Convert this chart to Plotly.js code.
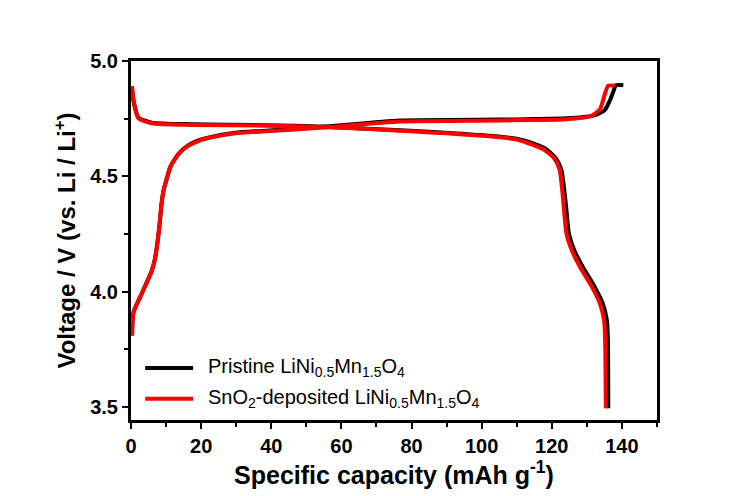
<!DOCTYPE html>
<html>
<head>
<meta charset="utf-8">
<script src="https://cdn.plot.ly/plotly-3.0.1.min.js"></script>
<style>
  html, body { margin: 0; padding: 0; background: #fff; }
  #plot { width: 752px; height: 496px; }
</style>
</head>
<body>
<div id="plot"></div>
<script>
// Charge / discharge curves (capacity in mAh/g, voltage in V)
const pristineChargeX = [0.3, 0.7, 3.0, 5.9, 6.8, 7.6, 8.2, 8.7, 9.3, 10.2, 11.2, 12.5, 14, 16.3, 19, 22, 29.7, 37.3, 55.8, 76.7, 105.2, 112.8, 124.2, 131.5, 135.0, 136.6, 137.6, 138.3, 140.4];
const pristineChargeY = [3.81, 3.91, 3.99, 4.09, 4.14, 4.22, 4.30, 4.38, 4.44, 4.49, 4.54, 4.575, 4.605, 4.634, 4.655, 4.668, 4.689, 4.697, 4.716, 4.742, 4.746, 4.748, 4.752, 4.762, 4.785, 4.83, 4.87, 4.895, 4.895];
const pristineDischargeX = [0.3, 0.5, 1.1, 2.1, 5.9, 17.3, 37.3, 55.8, 76.7, 100.5, 110, 115.2, 118, 121.1, 122.7, 123.5, 124.2, 124.9, 126.4, 128.8, 132.2, 134.5, 135.7, 136.0, 136.1];
const pristineDischargeY = [4.89, 4.85, 4.80, 4.755, 4.733, 4.726, 4.722, 4.715, 4.70, 4.678, 4.663, 4.64, 4.622, 4.58, 4.53, 4.45, 4.35, 4.25, 4.18, 4.108, 4.022, 3.95, 3.877, 3.79, 3.495];

const snChargeX = [0.3, 0.7, 3.0, 5.9, 6.8, 7.6, 8.2, 8.7, 9.3, 10.2, 11.2, 12.5, 14, 16.3, 19, 22, 29.7, 37.3, 55.8, 76.7, 105.2, 112.8, 124.2, 130.9, 133.7, 135.2, 136.1, 138];
const snChargeY = [3.81, 3.91, 3.99, 4.09, 4.14, 4.22, 4.30, 4.38, 4.44, 4.49, 4.54, 4.575, 4.605, 4.632, 4.652, 4.666, 4.687, 4.694, 4.713, 4.738, 4.742, 4.744, 4.748, 4.76, 4.79, 4.86, 4.893, 4.893];
const snDischargeX = [0.3, 0.5, 1.1, 2.1, 5.9, 17.3, 37.3, 55.8, 76.7, 100.5, 110, 114.7, 117.5, 120.6, 122.2, 122.9, 123.5, 124.2, 125.7, 128, 131.4, 133.7, 134.9, 135.2, 135.4];
const snDischargeY = [4.89, 4.85, 4.80, 4.752, 4.73, 4.723, 4.72, 4.713, 4.698, 4.676, 4.66, 4.636, 4.618, 4.58, 4.53, 4.45, 4.35, 4.25, 4.18, 4.108, 4.022, 3.95, 3.877, 3.79, 3.495];

const pristineName = "Pristine LiNi<sub>0.5</sub>Mn<sub>1.5</sub>O<sub>4</sub>";
const snName = "SnO<sub>2</sub>-deposited LiNi<sub>0.5</sub>Mn<sub>1.5</sub>O<sub>4</sub>";

const fontFam = "'Liberation Sans', Arial, sans-serif";

function curve(x, y, color, name) {
  return {
    x: x,
    y: y,
    mode: "lines",
    name: name,
    showlegend: false,
    line: { color: color, width: 4, shape: "spline", smoothing: 0.6 },
    hoverinfo: "none",
  };
}

const traces = [
  curve(pristineChargeX, pristineChargeY, "#000000", pristineName),
  curve(pristineDischargeX, pristineDischargeY, "#000000", pristineName),
  curve(snChargeX, snChargeY, "#ff0000", snName),
  curve(snDischargeX, snDischargeY, "#ff0000", snName),
];

// legend drawn by hand so the sample line can be as long as in the picture
const legendRows = [
  { name: pristineName, color: "#000000", y: 0.145 },
  { name: snName, color: "#ff0000", y: 0.059 },
];
const legendShapes = legendRows.map((r) => ({
  type: "line",
  xref: "paper",
  yref: "paper",
  x0: 0.027,
  x1: 0.118,
  y0: r.y,
  y1: r.y,
  line: { color: r.color, width: 4 },
}));
const legendTexts = legendRows.map((r) => ({
  xref: "paper",
  yref: "paper",
  x: 0.142,
  y: r.y,
  xanchor: "left",
  yanchor: "middle",
  showarrow: false,
  text: r.name,
  font: { family: fontFam, size: 20, color: "#000" },
}));

const axisCommon = {
  showline: true,
  linewidth: 3,
  linecolor: "#000",
  mirror: true,
  showgrid: false,
  zeroline: false,
  ticks: "outside",
  ticklen: 6,
  tickwidth: 2,
  tickcolor: "#000",
  tickfont: { family: fontFam, size: 20, color: "#000", weight: "bold" },
};

const layout = {
  width: 752,
  height: 496,
  paper_bgcolor: "#fff",
  plot_bgcolor: "#fff",
  margin: { l: 131, r: 95, t: 61, b: 76 },
  showlegend: false,
  shapes: legendShapes,
  annotations: legendTexts,
  xaxis: Object.assign({}, axisCommon, {
    range: [0, 150],
    tickmode: "array",
    tickvals: [0, 20, 40, 60, 80, 100, 120, 140],
    minor: { dtick: 10, tick0: 0, ticks: "outside", ticklen: 4, tickwidth: 2, tickcolor: "#000" },
    title: {
      text: "Specific capacity (mAh g<sup>-1</sup>)",
      font: { family: fontFam, size: 25, color: "#000", weight: "bold" },
      standoff: 2,
    },
  }),
  yaxis: Object.assign({}, axisCommon, {
    range: [3.444, 5.0],
    tickmode: "array",
    tickvals: [3.5, 4.0, 4.5, 5.0],
    ticktext: ["3.5", "4.0", "4.5", "5.0"],
    minor: { tickvals: [3.75, 4.25, 4.75], ticks: "outside", ticklen: 4, tickwidth: 2, tickcolor: "#000" },
    title: {
      text: "Voltage / V (vs. Li / Li<sup>+</sup>)",
      font: { family: fontFam, size: 24, color: "#000", weight: "bold" },
      standoff: 8,
    },
  }),
};

Plotly.newPlot("plot", traces, layout, { staticPlot: true, displayModeBar: false });
</script>
</body>
</html>
